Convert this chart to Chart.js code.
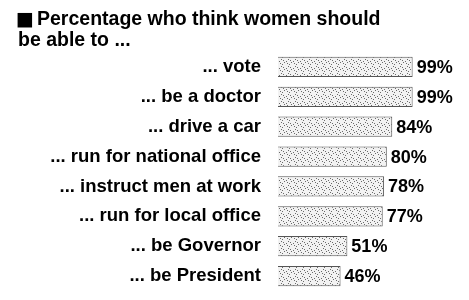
<!DOCTYPE html>
<html>
<head>
<meta charset="utf-8">
<script src="https://cdn.jsdelivr.net/npm/chart.js@4"></script>
<style>
  html, body { margin: 0; padding: 0; background: #fff; }
  #wrap { width: 469px; height: 300px; }
</style>
</head>
<body>
<div id="wrap"><canvas id="chart" width="469" height="300"></canvas></div>
<script>
// data
const categories = [
    '... vote',
    '... be a doctor',
    '... drive a car',
    '... run for national office',
    '... instruct men at work',
    '... run for local office',
    '... be Governor',
    '... be President'
];
const percentages = [99, 99, 84, 80, 78, 77, 51, 46];
const titleMarker = '\u25A0';
const titleLines = ['Percentage who think women should', 'be able to ...'];

const FONT = '"Liberation Sans", Arial, Helvetica, sans-serif';

// speckled fill, like the scanned halftone in the original
function speckle() {
    const c = document.createElement('canvas');
    c.width = 14;
    c.height = 14;
    const g = c.getContext('2d');
    g.fillStyle = '#f2f2f2';
    g.fillRect(0, 0, 14, 14);
    g.fillStyle = '#6a6a6a';
    for (let y = 0; y < 14; y++) {
        for (let x = 0; x < 14; x++) {
            if ((x * 5 + y * 9 + x * y) % 7 === 0) g.fillRect(x, y, 1, 1);
        }
    }
    return g.createPattern(c, 'repeat');
}

// two-line heading with the black square marker
const heading = {
    id: 'heading',
    afterDraw(chart) {
        const ctx = chart.ctx;
        ctx.save();
        ctx.fillStyle = '#000';
        ctx.textAlign = 'left';
        ctx.textBaseline = 'alphabetic';
        ctx.font = 'bold 19px "DejaVu Sans", sans-serif';
        ctx.fillText(titleMarker, 16, 25);
        ctx.font = 'bold 19.5px ' + FONT;
        ctx.fillText(titleLines[0], 37, 25);
        ctx.fillText(titleLines[1], 18, 46);
        ctx.restore();
    }
};

// value labels at the end of each bar
const valueLabels = {
    id: 'valueLabels',
    afterDatasetsDraw(chart) {
        const ctx = chart.ctx;
        const meta = chart.getDatasetMeta(0);
        ctx.save();
        ctx.font = 'bold 18px ' + FONT;
        ctx.fillStyle = '#000';
        ctx.textAlign = 'left';
        ctx.textBaseline = 'middle';
        meta.data.forEach((bar, i) => {
            ctx.fillText(percentages[i] + '%', bar.x + 4, bar.y + 1);
        });
        ctx.restore();
    }
};

new Chart(document.getElementById('chart'), {
    type: 'bar',
    data: {
        labels: categories,
        datasets: [{
            data: percentages,
            backgroundColor: speckle(),
            borderColor: '#555',
            borderWidth: 1,
            categoryPercentage: 1,
            barPercentage: 0.68
        }]
    },
    options: {
        indexAxis: 'y',
        responsive: false,
        animation: false,
        layout: { padding: { left: 18, right: 55, top: 52, bottom: 9 } },
        scales: {
            x: {
                display: false,
                min: 0,
                max: 100
            },
            y: {
                grid: { display: false },
                border: { display: false },
                afterFit(scale) {
                    scale.width = 260;
                    scale.paddingTop = 0;
                    scale.paddingBottom = 0;
                },
                ticks: {
                    color: '#000',
                    padding: 9,
                    font: { family: FONT, size: 18.5, weight: 'bold' }
                }
            }
        },
        plugins: {
            legend: { display: false },
            tooltip: { enabled: false },
            title: { display: false }
        }
    },
    plugins: [valueLabels, heading]
});
</script>
</body>
</html>
